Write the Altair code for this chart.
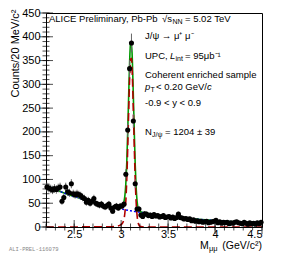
import altair as alt
import pandas as pd
import numpy as np

FONT = "Liberation Sans"

# ---- data ----
counts = [84, 82, 80, 78, 81, 79, 82, 84, 54, 62,
          84, 74, 72, 91, 70, 68, 70, 68, 66, 62,
          60, 52, 56, 50, 54, 60, 50, 48, 46, 48,
          44, 42, 45, 48, 40, 33, 42, 44, 40, 44,
          44, 48,
          111, 204, 333, 387, 223, 91, 38, 38,
          25, 22, 28, 27, 24, 25, 22, 26, 23, 24,
          21, 22, 24, 20, 21, 22, 19, 21, 18, 20,
          27, 20, 19, 17, 18, 16, 17, 13, 15, 12,
          13, 11, 12, 10, 11, 12, 9, 10, 11, 12,
          14, 9, 11, 8, 10, 9, 10, 7, 9, 8,
          10, 11, 9, 8, 7, 10, 8, 6, 9, 7,
          8, 6, 9, 7, 10]
bin_centers = [round(2.21 + 0.02 * i, 2) for i in range(len(counts))]

bg_x = [2.2, 2.3, 2.4, 2.5, 2.6, 2.7, 2.8, 2.9, 3.0, 3.1, 3.2, 3.3, 3.4, 3.5,
        3.6, 3.7, 3.8, 3.9, 4.0, 4.1, 4.2, 4.3, 4.4, 4.5]
bg_y = [88, 79, 71, 64, 58, 52, 47, 42, 38, 34, 31, 28, 25, 22.5,
        20, 18, 16.5, 15, 13.5, 12, 11, 10, 9, 8]

sig_x = [2.2, 2.9, 2.95, 3.0, 3.02, 3.04, 3.05, 3.06, 3.07, 3.08, 3.09, 3.10,
         3.11, 3.12, 3.13, 3.14, 3.15, 3.16, 3.17, 3.18, 3.19, 3.2, 3.25, 4.5]
sig_y = [0, 0.5, 1.5, 5, 10, 30, 55, 100, 165, 240, 310, 352,
         355, 315, 245, 170, 100, 52, 24, 10, 4, 1.5, 0, 0]

tot_x = [2.2, 2.3, 2.4, 2.5, 2.6, 2.7, 2.8, 2.9, 2.95, 3.0, 3.02, 3.04, 3.05,
         3.06, 3.07, 3.08, 3.09, 3.10, 3.11, 3.12, 3.13, 3.14, 3.15, 3.16,
         3.17, 3.18, 3.19, 3.2, 3.25, 3.3, 3.4, 3.5, 3.6, 3.7, 3.8, 3.9, 4.0,
         4.1, 4.2, 4.3, 4.4, 4.5]
tot_y = [88, 79, 71, 64, 58, 52, 47, 42.5, 41.5, 43, 47, 66, 91,
         135, 200, 274, 344, 386, 388, 347, 276, 200, 131, 82,
         54, 40, 35, 32.5, 29.5, 28, 25, 22.5, 20, 18, 16.5, 15, 13.5,
         12, 11, 10, 9, 8]

x_tick_labels = [2.5, 3, 3.5, 4, 4.5]
x_minor = [round(2.2 + 0.1 * i, 1) for i in range(24)]
y_tick_labels = [0, 50, 100, 150, 200, 250, 300, 350, 400, 450]
y_minor = list(range(0, 451, 10))

W, H = 216, 214

xs = alt.Scale(domain=[2.2, 4.5], nice=False, zero=False)
ys = alt.Scale(domain=[0, 450], nice=False, zero=False)

x_axis = alt.Axis(values=x_tick_labels, format="~g", tickSize=0, domain=False,
                  grid=False, labelFont=FONT, labelFontSize=11, labelPadding=1,
                  labelColor="black", title=None)
y_axis = alt.Axis(values=y_tick_labels, tickSize=0, domain=False, grid=False,
                  labelFont=FONT, labelFontSize=11, labelPadding=6,
                  labelColor="black",
                  title="Counts/20 MeV/c²", titleFont=FONT, titleFontSize=11,
                  titleFontWeight="normal", titleColor="black", titleAngle=270,
                  titleAlign="right", titleBaseline="top", titleX=-37, titleY=-4)


def X(field):
    return alt.X(field, type="quantitative", scale=xs, axis=x_axis)


def Y(field):
    return alt.Y(field, type="quantitative", scale=ys, axis=y_axis)


df = pd.DataFrame({"m": bin_centers, "n": counts})
df_bg = pd.DataFrame({"m": bg_x, "n": bg_y})
df_sig = pd.DataFrame({"m": sig_x, "n": sig_y})
df_tot = pd.DataFrame({"m": tot_x, "n": tot_y})

base = alt.Chart(df)

errbars = base.transform_calculate(
    lo="datum.n - sqrt(datum.n)", hi="datum.n + sqrt(datum.n)"
).mark_rule(color="#666666", strokeWidth=1).encode(
    x=X("m"), y=Y("lo"), y2="hi:Q")

points = base.mark_circle(size=26, color="black", opacity=1).encode(
    x=X("m"), y=Y("n"))

bg_line = alt.Chart(df_bg).mark_line(color="#0000ff", strokeWidth=1.5,
                                     strokeDash=[2, 2], interpolate="monotone",
                                     clip=True).encode(x=X("m"), y=Y("n"))
tot_line = alt.Chart(df_tot).mark_line(color="#009900", strokeWidth=1.6,
                                       interpolate="monotone",
                                       clip=True).encode(x=X("m"), y=Y("n"))
sig_line = alt.Chart(df_sig).mark_line(color="#b00000", strokeWidth=1.6,
                                       strokeDash=[8, 4], interpolate="monotone",
                                       clip=True).encode(x=X("m"), y=Y("n"))

# axis ticks drawn inward (ROOT style)
ymaj = alt.Chart(pd.DataFrame({"n": y_tick_labels})).mark_tick(
    orient="horizontal", size=14, thickness=1, color="black").encode(
    y=Y("n"), x=alt.value(0))
ymin = alt.Chart(pd.DataFrame({"n": y_minor})).mark_tick(
    orient="horizontal", size=7, thickness=1, color="black").encode(
    y=Y("n"), x=alt.value(0))
xmaj = alt.Chart(pd.DataFrame({"m": x_tick_labels})).mark_tick(
    orient="vertical", size=14, thickness=1, color="black").encode(
    x=X("m"), y=alt.value(H))
xmin = alt.Chart(pd.DataFrame({"m": x_minor})).mark_tick(
    orient="vertical", size=7, thickness=1, color="black").encode(
    x=X("m"), y=alt.value(H))

one = alt.Data(values=[{"a": 1}])


def txt(s, x, y, size=9.5, style="normal", align="left", color="black",
        font=FONT):
    return alt.Chart(one).mark_text(
        text=s, align=align, baseline="middle", fontSize=size, font=font,
        fontStyle=style, color=color).encode(x=alt.value(x), y=alt.value(y))


texts = [
    txt("ALICE Preliminary, Pb-Pb", 3, 6),
    txt("√s", 116, 6),
    txt("NN", 126.5, 9, size=7),
    txt("= 5.02 TeV", 139, 6),
    txt("J/ψ → μ⁺ μ⁻", 99, 23),
    txt("UPC,", 99, 43),
    txt("L", 124, 43, style="italic"),
    txt("int", 129.5, 46, size=7),
    txt("= 95μb⁻¹", 139, 43),
    txt("Coherent enriched sample", 99, 62),
    txt("p", 99, 74, style="italic"),
    txt("T", 104.5, 77, size=7),
    txt("< 0.20 GeV/", 110, 74),
    txt("c", 161, 74, style="italic"),
    txt("-0.9 < y < 0.9", 99, 90),
    txt("N", 99, 119),
    txt("J/ψ", 106, 122, size=7),
    txt("= 1204 ± 39", 119, 119),
    txt("M", 154, 233, size=10.5),
    txt("μμ", 163, 235.5, size=7.5),
    txt("(GeV/c²)", 216, 233, size=10.5, align="right"),
    txt("ALI-PREL-116079", -37, 236, size=5.5, color="#888888",
        font="Liberation Mono"),
]

chart = alt.layer(
    tot_line, bg_line, sig_line, errbars, points,
    ymaj, ymin, xmaj, xmin, *texts
).properties(
    width=W, height=H,
    autosize=alt.AutoSizeParams(type="none"),
    padding={"left": 38, "top": 5, "right": 23, "bottom": 26},
    background="white",
).configure_view(stroke="black", strokeWidth=1)

chart.save("out.html", embed_options={"renderer": "svg", "actions": False})
